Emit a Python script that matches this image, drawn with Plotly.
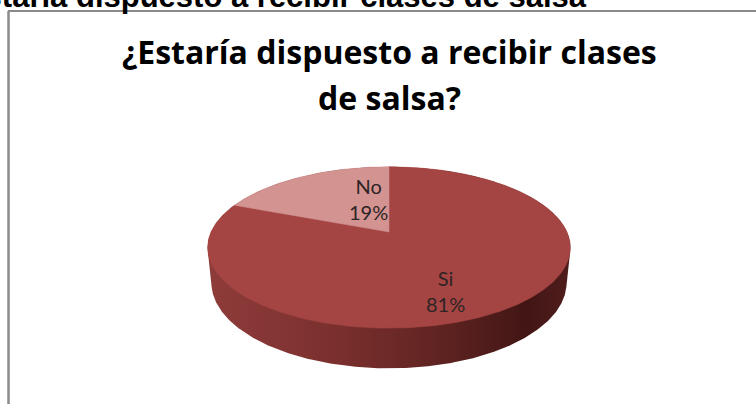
import numpy as np
import plotly.graph_objects as go

# ---- data ----
labels = ["Si", "No"]
values = [81, 19]
title_lines = ["¿Estaría dispuesto a recibir clases", "de salsa?"]
page_heading = "¿Estaría dispuesto a recibir clases de salsa"

# ---- style / geometry constants ----
W, H = 756, 404
CX, CY, S = 389.0, 232.0, 178.0         # pie centre on screen and radius scale (px)
ALPHA = np.radians(25.9)                # viewing elevation
DIST = 4.69                             # camera distance (in radii)
DEPTH = 0.22                            # pie thickness (in radii)
top_colors = {"Si": "#a54543", "No": "#d29391"}
side_scale = [[0.0, "#8e3c3a"], [0.35, "#7b302e"], [0.65, "#5e2321"],
              [0.88, "#421615"], [1.0, "#4f1d1c"]]
label_pos = {"No": (368, 199), "Si": (445, 291)}
text_color = "#2e2424"

sa, ca = np.sin(ALPHA), np.cos(ALPHA)


def proj(phi, y=0.0):
    X, Z = np.cos(phi), np.sin(phi)
    Y = np.full_like(X, y) if np.ndim(X) else y
    depth = -Y * sa + Z * ca + DIST
    v = Y * ca + Z * sa
    return CX + S * X * DIST / depth, CY - S * v * DIST / depth


def hull(px, py):
    pts = sorted(set(zip(np.round(px, 3), np.round(py, 3))))

    def cross(o, a, b):
        return (a[0] - o[0]) * (b[1] - o[1]) - (a[1] - o[1]) * (b[0] - o[0])
    lower, upper = [], []
    for p in pts:
        while len(lower) >= 2 and cross(lower[-2], lower[-1], p) <= 0:
            lower.pop()
        lower.append(p)
    for p in reversed(pts):
        while len(upper) >= 2 and cross(upper[-2], upper[-1], p) <= 0:
            upper.pop()
        upper.append(p)
    h = lower[:-1] + upper[:-1]
    h.append(h[0])
    return [p[0] for p in h], [p[1] for p in h]


fig = go.Figure()

# side (extruded body) as convex hull of top and bottom rims
t = np.linspace(0, 2 * np.pi, 721)
tx, ty = proj(t, 0.0)
bx, by = proj(t, -DEPTH)
hx, hy = hull(np.concatenate([tx, bx]), np.concatenate([ty, by]))
fig.add_trace(go.Scatter(x=hx, y=hy, mode="lines", fill="toself",
                         line=dict(width=0, color="rgba(0,0,0,0)"),
                         fillgradient=dict(type="horizontal", colorscale=side_scale),
                         hoverinfo="skip", showlegend=False))

# top face slices, first slice starts at 12 o'clock going clockwise
total = float(sum(values))
start = np.pi / 2
for lab, val in zip(labels, values):
    span = 2 * np.pi * val / total
    a = np.linspace(start, start - span, max(int(val * 8), 20))
    rx, ry = proj(a, 0.0)
    xs = [CX] + list(rx) + [CX]
    ys = [CY] + list(ry) + [CY]
    fig.add_trace(go.Scatter(x=xs, y=ys, mode="lines", fill="toself",
                             fillcolor=top_colors[lab],
                             line=dict(width=0.5, color=top_colors[lab]),
                             name=lab, hoverinfo="name", showlegend=False))
    start -= span

# data labels
for lab, val in zip(labels, values):
    lx, ly = label_pos[lab]
    fig.add_annotation(x=lx, y=ly, xref="x", yref="y", text=f"{lab}<br>{val}%",
                       showarrow=False, xanchor="center", yanchor="middle",
                       font=dict(family="Lato", size=20, color=text_color))

# chart title (two lines)
fig.add_annotation(x=389, y=51, xref="x", yref="y", text=title_lines[0], showarrow=False,
                   xanchor="center", yanchor="middle",
                   font=dict(family="Open Sans", size=32, color="#000000", weight="bold"))
fig.add_annotation(x=389, y=97, xref="x", yref="y", text=title_lines[1], showarrow=False,
                   xanchor="center", yanchor="middle",
                   font=dict(family="Open Sans", size=32, color="#000000", weight="bold"))

# cut-off page heading at the very top (cropped in the reference too)
fig.add_annotation(x=589 / W, y=1 + 3.8 / H, xref="paper", yref="paper", text=page_heading,
                   showarrow=False, xanchor="right", yanchor="middle",
                   font=dict(family="Liberation Sans", size=31, color="#000000", weight="bold"))

# chart frame (left and top edges)
fig.add_shape(type="line", x0=8.5, x1=8.5, y0=11, y1=H, xref="x", yref="y",
              line=dict(color="#8a8a8a", width=2.5))
fig.add_shape(type="line", x0=8, x1=W, y0=11, y1=11, xref="x", yref="y",
              line=dict(color="#8a8a8a", width=2))

fig.update_layout(
    width=W, height=H, margin=dict(l=0, r=0, t=0, b=0),
    paper_bgcolor="#ffffff", plot_bgcolor="#ffffff",
    xaxis=dict(range=[0, W], visible=False, fixedrange=True),
    yaxis=dict(range=[H, 0], visible=False, fixedrange=True),
    showlegend=False,
)
fig.write_html("out.html")
